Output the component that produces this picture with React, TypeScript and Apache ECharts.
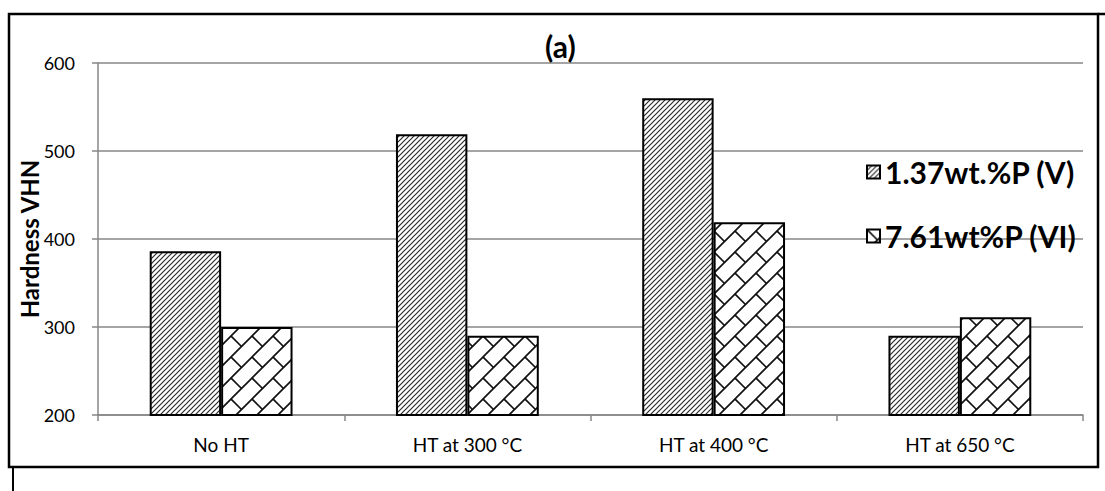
import React, { useEffect, useRef } from "react";
import * as echarts from "echarts";

const categories = ["No HT", "HT at 300 °C", "HT at 400 °C", "HT at 650 °C"];
const seriesNames = ["1.37wt.%P (V)", "7.61wt%P (VI)"];
const valuesV = [386, 519, 560, 290];
const valuesVI = [300, 290, 419, 311];
const yTicks = { min: 200, max: 600, interval: 100 };
const titleText = "(a)";
const yAxisName = "Hardness VHN";

function makeHatch(): HTMLCanvasElement {
  const S = 5;
  const c = document.createElement("canvas");
  c.width = S;
  c.height = S;
  const ctx = c.getContext("2d")!;
  ctx.fillStyle = "#ffffff";
  ctx.fillRect(0, 0, S, S);
  ctx.strokeStyle = "#2a2a2a";
  ctx.lineWidth = 1.15;
  for (let k = 0; k <= 2; k++) {
    ctx.beginPath();
    ctx.moveTo(-S, k * S + S);
    ctx.lineTo(k * S + S, -S);
    ctx.stroke();
  }
  return c;
}

function makeBrick(): HTMLCanvasElement {
  const S = 21;
  const c = document.createElement("canvas");
  c.width = S;
  c.height = S;
  const ctx = c.getContext("2d")!;
  ctx.fillStyle = "#ffffff";
  ctx.fillRect(0, 0, S, S);
  ctx.strokeStyle = "#111111";
  ctx.lineWidth = 1.7;
  for (let k = 0; k <= 2; k++) {
    ctx.beginPath();
    ctx.moveTo(-S, k * S + S);
    ctx.lineTo(k * S + S, -S);
    ctx.stroke();
  }
  const segs = [
    [0, 0],
    [S, S],
    [-S, -S],
    [S, 0],
    [0, S],
  ];
  for (const [ox, oy] of segs) {
    ctx.beginPath();
    ctx.moveTo(ox, oy);
    ctx.lineTo(ox + S / 2, oy + S / 2);
    ctx.stroke();
  }
  return c;
}

export default function App() {
  const ref = useRef<HTMLDivElement>(null);
  useEffect(() => {
    document.body.style.margin = "0";
    const chart = echarts.init(ref.current!, undefined, { renderer: "svg" });
    const hatch = makeHatch();
    const brick = makeBrick();
    const font = "Lato, 'Open Sans', sans-serif";
    const gray = "#878787";
    chart.setOption({
      animation: false,
      backgroundColor: "#ffffff",
      textStyle: { fontFamily: font },
      title: {
        text: titleText,
        left: 540,
        top: 26,
        textStyle: { fontFamily: font, fontWeight: "bold", fontSize: 30, color: "#000" },
      },
      legend: {
        orient: "vertical",
        left: 861,
        top: 152,
        itemWidth: 13,
        itemHeight: 13,
        itemGap: 34,
        icon: "rect",
        textStyle: { fontFamily: font, fontWeight: "bold", fontSize: 30, color: "#000", lineHeight: 30 },
        data: seriesNames,
      },
      grid: { left: 98, right: 22, top: 63, bottom: 76 },
      xAxis: {
        type: "category",
        data: categories,
        axisLine: { lineStyle: { color: gray, width: 1.5 } },
        axisTick: { show: true, length: 6, lineStyle: { color: gray, width: 1.5 } },
        axisLabel: { color: "#000", fontSize: 19, fontFamily: font, margin: 20 },
      },
      yAxis: {
        type: "value",
        min: yTicks.min,
        max: yTicks.max,
        interval: yTicks.interval,
        name: yAxisName,
        nameLocation: "middle",
        nameGap: 57,
        nameMoveOverlap: false,
        nameTextStyle: { fontFamily: font, fontWeight: "bold", fontSize: 24, color: "#000" },
        axisLine: { show: true, lineStyle: { color: gray, width: 1.5 } },
        axisTick: { show: true, length: 6, lineStyle: { color: gray, width: 1.5 } },
        splitLine: { lineStyle: { color: gray, width: 1.5 } },
        axisLabel: { color: "#000", fontSize: 18, fontFamily: font, margin: 23 },
      },
      series: [
        {
          name: seriesNames[0],
          type: "bar",
          data: valuesV,
          barGap: "0%",
          barCategoryGap: "42%",
          itemStyle: {
            color: { image: hatch, repeat: "repeat" },
            borderColor: "#000",
            borderWidth: 2,
          },
        },
        {
          name: seriesNames[1],
          type: "bar",
          data: valuesVI,
          barGap: "0%",
          barCategoryGap: "42%",
          itemStyle: {
            color: { image: brick, repeat: "repeat" },
            borderColor: "#000",
            borderWidth: 2,
          },
        },
      ],
      graphic: [
        {
          type: "rect",
          shape: { x: 9, y: 14, width: 1089, height: 453 },
          style: { fill: "none", stroke: "#000", lineWidth: 2.5 },
          silent: true,
        },
        {
          type: "line",
          shape: { x1: 1098, y1: 14, x2: 1105, y2: 14 },
          style: { stroke: "#000", lineWidth: 2.5 },
          silent: true,
        },
        {
          type: "line",
          shape: { x1: 13, y1: 467, x2: 13, y2: 491 },
          style: { stroke: "#000", lineWidth: 2 },
          silent: true,
        },
      ],
    });
    return () => chart.dispose();
  }, []);
  return <div ref={ref} style={{ width: 1105, height: 491 }} />;
}
